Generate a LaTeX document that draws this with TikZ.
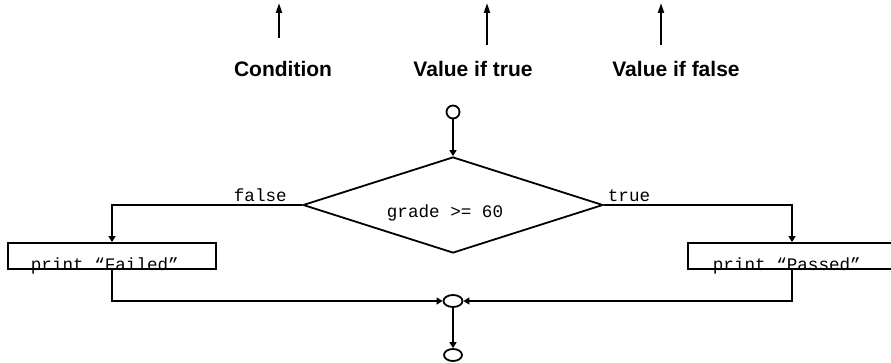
\documentclass[tikz,border=0pt]{standalone}
\usepackage{fontspec}
\setmainfont{Liberation Sans}
\newfontfamily\codefont{Liberation Mono}
\usetikzlibrary{arrows.meta,shapes.geometric}
\begin{document}
\begin{tikzpicture}[x=1pt,y=-1pt,
  line width=1.8pt,
  tip/.style={-{Triangle[length=10pt,width=6pt]}},
  smalltip/.style={-{Triangle[length=6pt,width=7pt]}},
  caption/.style={font=\fontsize{21}{24}\selectfont\bfseries, anchor=base, inner sep=0},
  code/.style={font=\fontsize{17.6}{20}\codefont, inner sep=0},
  stepbox/.style={draw, rectangle, minimum width=208pt, minimum height=26pt, inner sep=0},
  connector/.style={draw, ellipse, inner sep=0},
  decision/.style={draw, diamond, minimum width=300pt, minimum height=96pt, inner sep=0}]
  \clip (0,0) rectangle (891,363);
  \fill[white] (0,0) rectangle (891,363);

  % argument captions with their pointers
  \node[caption] (cond) at (283,77) {Condition};
  \node[caption] (vtrue) at (473,77) {Value if true};
  \node[caption] (vfalse) at (676,77) {Value if false};
  \coordinate (c1a) at (279,38); \coordinate (c1b) at (279,3);
  \coordinate (c2a) at (487,45); \coordinate (c2b) at (487,3);
  \coordinate (c3a) at (661,45); \coordinate (c3b) at (661,3);
  \draw[tip] (c1a) -- (c1b);
  \draw[tip] (c2a) -- (c2b);
  \draw[tip] (c3a) -- (c3b);

  % flowchart
  \node[connector, minimum width=13pt, minimum height=13pt] (start) at (453,112) {};
  \node[decision] (dec) at (453,205) {};
  \node[code, anchor=base] (cond text) at (445,218) {grade >= 60};
  \node[stepbox] (failed) at (112,256) {};
  \node[stepbox] (passed) at (792,256) {};
  \node[code, anchor=base west] (ftext) at (30,270) {print “Failed”};
  \node[code, anchor=base west] (ptext) at (712,270) {print “Passed”};
  \node[connector, minimum width=19pt, minimum height=12pt] (merge) at (453,301) {};
  \node[connector, minimum width=18pt, minimum height=12pt] (stop) at (453,355) {};

  \node[code, anchor=base west] (flab) at (233,202) {false};
  \node[code, anchor=base west] (tlab) at (607,202) {true};

  \draw[smalltip] (start.south) -- (dec.north);
  \draw[smalltip] (dec.west) -| (failed.north);
  \draw[smalltip] (dec.east) -| (passed.north);
  \draw[smalltip] (failed.south) |- (merge.west);
  \draw[smalltip] (passed.south) |- (merge.east);
  \draw[smalltip] (merge.south) -- (stop.north);
\end{tikzpicture}
\end{document}
